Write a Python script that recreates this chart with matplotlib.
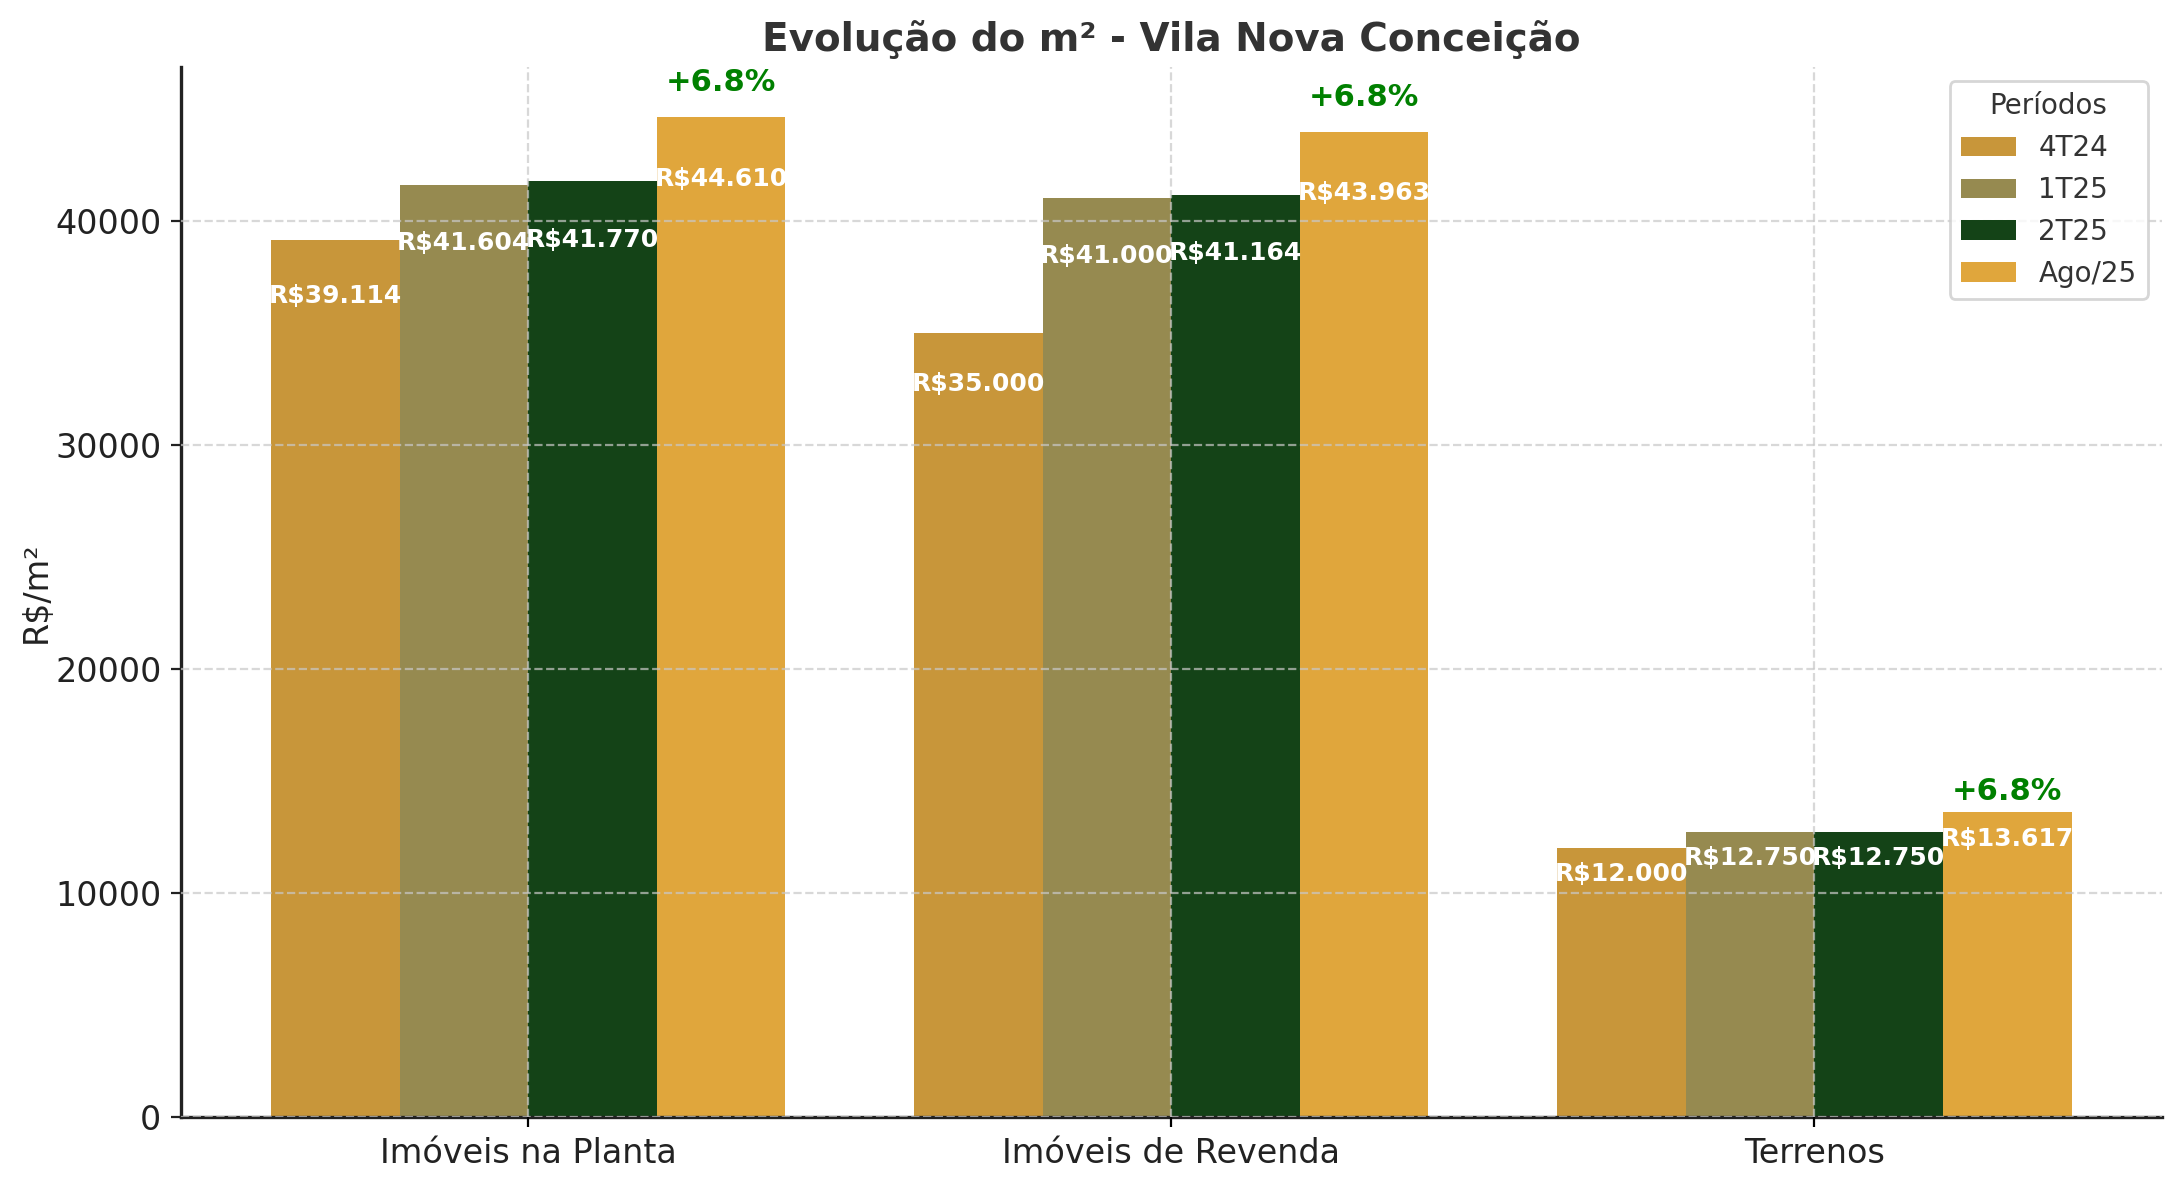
import matplotlib
matplotlib.use("Agg")
import matplotlib.pyplot as plt
import numpy as np

categorias = ["Imóveis na Planta", "Imóveis de Revenda", "Terrenos"]
periodos = ["4T24", "1T25", "2T25", "Ago/25"]
v_4t24 = [39114, 35000, 12000]
v_1t25 = [41604, 41000, 12750]
v_2t25 = [41770, 41164, 12750]
v_ago25 = [44610, 43963, 13617]
cores = ["#C8963A", "#968A50", "#144317", "#E0A63C"]

series = [v_4t24, v_1t25, v_2t25, v_ago25]

def brl(v):
    return "R$" + f"{v:,.0f}".replace(",", ".")

fig, ax = plt.subplots(figsize=(10.895, 5.9), dpi=200)
fig.subplots_adjust(left=0.083, right=0.992, bottom=0.053, top=0.943)

x = np.arange(len(categorias))
w = 0.2
for i, (vals, per, cor) in enumerate(zip(series, periodos, cores)):
    bars = ax.bar(x + (i - 1.5) * w, vals, w, label=per, color=cor)
    for b, v in zip(bars, vals):
        ax.text(b.get_x() + b.get_width() / 2, v * 0.95, brl(v),
                ha="center", va="top", color="white", fontsize=9, fontweight="bold")

# variação do último período contra o 2T25
for j in range(len(categorias)):
    var = (v_ago25[j] / v_2t25[j] - 1) * 100
    ax.text(x[j] + 1.5 * w, v_ago25[j] * 1.02, f"+{var:.1f}%",
            ha="center", va="bottom", color="green", fontsize=11, fontweight="bold")

ax.set_ylim(0, max(v_ago25) * 1.05)
ax.set_xticks(x)
ax.set_xticklabels(categorias, fontsize=12, color="#222222")
ax.tick_params(axis="y", labelsize=12, colors="#222222")
ax.set_ylabel("R$/m²", fontsize=12, color="#222222", labelpad=1)
ax.set_title("Evolução do m² - Vila Nova Conceição", fontsize=14,
             fontweight="bold", color="#333333")

ax.grid(True, linestyle="--", color="#c8c8c8", alpha=0.7)
ax.set_axisbelow(False)
for s in ["top", "right"]:
    ax.spines[s].set_visible(False)
for s in ["left", "bottom"]:
    ax.spines[s].set_color("#222222")
    ax.spines[s].set_linewidth(1.2)

leg = ax.legend(title="Períodos", fontsize=10, title_fontsize=10, loc="upper right")
for t in leg.get_texts():
    t.set_color("#333333")
leg.get_title().set_color("#333333")

fig.savefig("out.png", dpi=200)
